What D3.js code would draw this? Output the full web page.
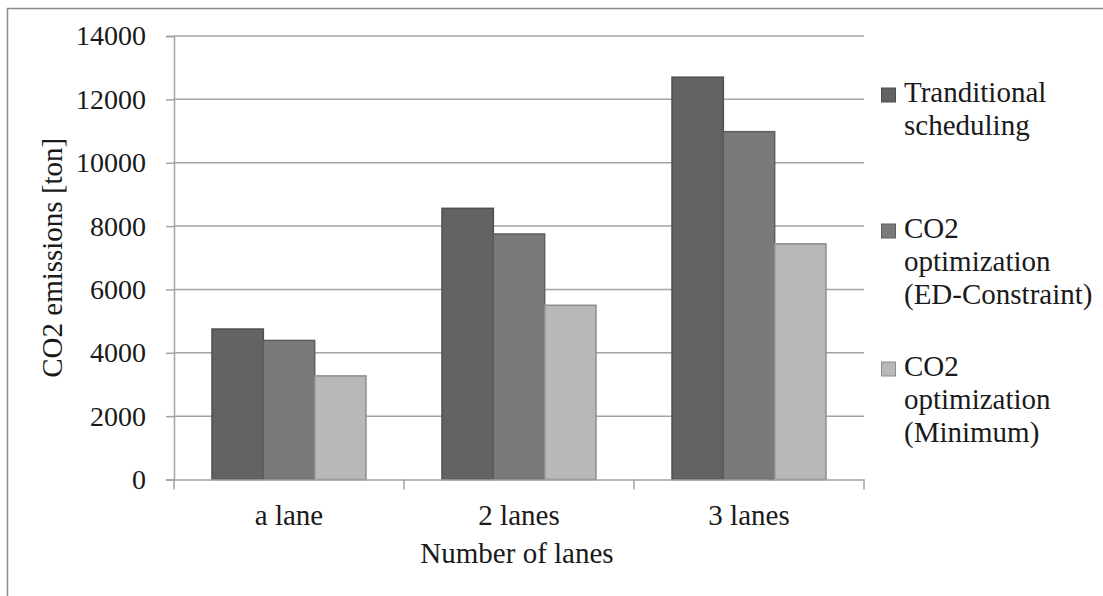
<!DOCTYPE html>
<html>
<head>
<meta charset="utf-8">
<script src="https://cdn.jsdelivr.net/npm/d3@7"></script>
<style>
  body { margin: 0; background: #fff; }
</style>
</head>
<body>
<div id="chart"></div>
<script>
const categories = ['a lane', '2 lanes', '3 lanes'];
const legendLines = [
  ['Tranditional', 'scheduling'],
  ['CO2', 'optimization', '(ED-Constraint)'],
  ['CO2', 'optimization', '(Minimum)']
];
const traditional = [4750, 8560, 12700];
const edConstraint = [4390, 7750, 10980];
const minimum = [3270, 5500, 7440];
const yTicks = [0, 2000, 4000, 6000, 8000, 10000, 12000, 14000];

const colors = ['#636363', '#7a7a7a', '#b8b8b8'];
const strokes = ['#4f4f4f', '#5e5e5e', '#8e8e8e'];
const textColor = '#1a1a1a';
const gridColor = '#a3a3a3';
const serif = '"Liberation Serif", "Times New Roman", serif';
const fontSize = 29;
const tickFontSize = 28;

const W = 1103, H = 596;
const margin = {top: 36, right: 239, bottom: 116.5, left: 174};
const width = W - margin.left - margin.right;
const height = H - margin.top - margin.bottom;

const table = categories.map((c, i) => ({
  cat: c,
  values: [traditional[i], edConstraint[i], minimum[i]]
}));

const svg = d3.select('#chart').append('svg')
  .attr('width', W)
  .attr('height', H);

// outer frame, runs off the right and bottom edges
svg.append('rect')
  .attr('x', 7.5).attr('y', 8.5)
  .attr('width', 1200).attr('height', 800)
  .attr('fill', 'none')
  .attr('stroke', '#8a8a8a')
  .attr('stroke-width', 1.5);

const g = svg.append('g')
  .attr('transform', 'translate(' + margin.left + ',' + margin.top + ')');

// Excel-like: bars fill 154 of every 230 px band
const x0 = d3.scaleBand().domain(categories).range([0, width]);
const groupW = x0.bandwidth() * 154 / 230;
const x1 = d3.scaleBand()
  .domain(d3.range(3))
  .range([0, groupW]);

const y = d3.scaleLinear()
  .domain([0, 14000])
  .range([height, 0]);

// gridlines
g.append('g')
  .selectAll('line')
  .data(yTicks.slice(1))
  .join('line')
  .attr('x1', 0).attr('x2', width)
  .attr('y1', d => y(d)).attr('y2', d => y(d))
  .attr('stroke', gridColor)
  .attr('stroke-width', 1.5);

// y axis
const yAxis = g.append('g')
  .call(d3.axisLeft(y).tickValues(yTicks).tickSize(8).tickPadding(20).tickFormat(d3.format('d')));
yAxis.select('.domain').attr('stroke', gridColor).attr('stroke-width', 1.5);
yAxis.selectAll('.tick line').attr('stroke', gridColor).attr('stroke-width', 1.5);
yAxis.selectAll('.tick text')
  .style('font-family', serif)
  .style('font-size', tickFontSize + 'px')
  .attr('fill', textColor);

// bars
const groups = g.append('g')
  .selectAll('g')
  .data(table)
  .join('g')
  .attr('transform', d => 'translate(' + (x0(d.cat) + (x0.bandwidth() - groupW) / 2) + ',0)');

groups.selectAll('rect')
  .data(d => d.values.map((v, i) => ({v, i})))
  .join('rect')
  .attr('x', d => x1(d.i))
  .attr('y', d => y(d.v))
  .attr('width', x1.bandwidth())
  .attr('height', d => height - y(d.v))
  .attr('fill', d => colors[d.i])
  .attr('stroke', d => strokes[d.i])
  .attr('stroke-width', 1.5);

// x axis
const xAxis = g.append('g')
  .attr('transform', 'translate(0,' + height + ')')
  .call(d3.axisBottom(x0).tickSize(0).tickPadding(24.5));
xAxis.select('.domain').attr('stroke', gridColor).attr('stroke-width', 1.5);
xAxis.selectAll('.tick text')
  .style('font-family', serif)
  .style('font-size', fontSize + 'px')
  .attr('fill', textColor);

// x-axis tick marks sit between the categories
g.append('g')
  .selectAll('line')
  .data(d3.range(categories.length + 1))
  .join('line')
  .attr('x1', i => i * x0.step()).attr('x2', i => i * x0.step())
  .attr('y1', height).attr('y2', height + 10)
  .attr('stroke', gridColor)
  .attr('stroke-width', 1.5);

// axis titles
g.append('text')
  .attr('x', width / 2 - 2)
  .attr('y', height + 83)
  .attr('text-anchor', 'middle')
  .style('font-family', serif)
  .style('font-size', fontSize + 'px')
  .attr('fill', textColor)
  .text('Number of lanes');

svg.append('text')
  .attr('transform', 'translate(62,' + (margin.top + height / 2) + ') rotate(-90)')
  .attr('text-anchor', 'middle')
  .style('font-family', serif)
  .style('font-size', fontSize + 'px')
  .attr('fill', textColor)
  .text('CO2 emissions [ton]');

// legend
const legendBase = [102, 238, 376];
const lineH = 33;
const legend = svg.append('g')
  .selectAll('g')
  .data(legendLines)
  .join('g')
  .attr('transform', (d, i) => 'translate(881,' + legendBase[i] + ')');

legend.append('rect')
  .attr('x', 0.5).attr('y', -14)
  .attr('width', 14).attr('height', 14)
  .attr('fill', (d, i) => colors[i])
  .attr('stroke', (d, i) => strokes[i])
  .attr('stroke-width', 1);

legend.append('text')
  .style('font-family', serif)
  .style('font-size', fontSize + 'px')
  .attr('fill', textColor)
  .selectAll('tspan')
  .data(d => d)
  .join('tspan')
  .attr('x', 23)
  .attr('dy', (d, i) => i === 0 ? 0 : lineH)
  .text(d => d);
</script>
</body>
</html>
